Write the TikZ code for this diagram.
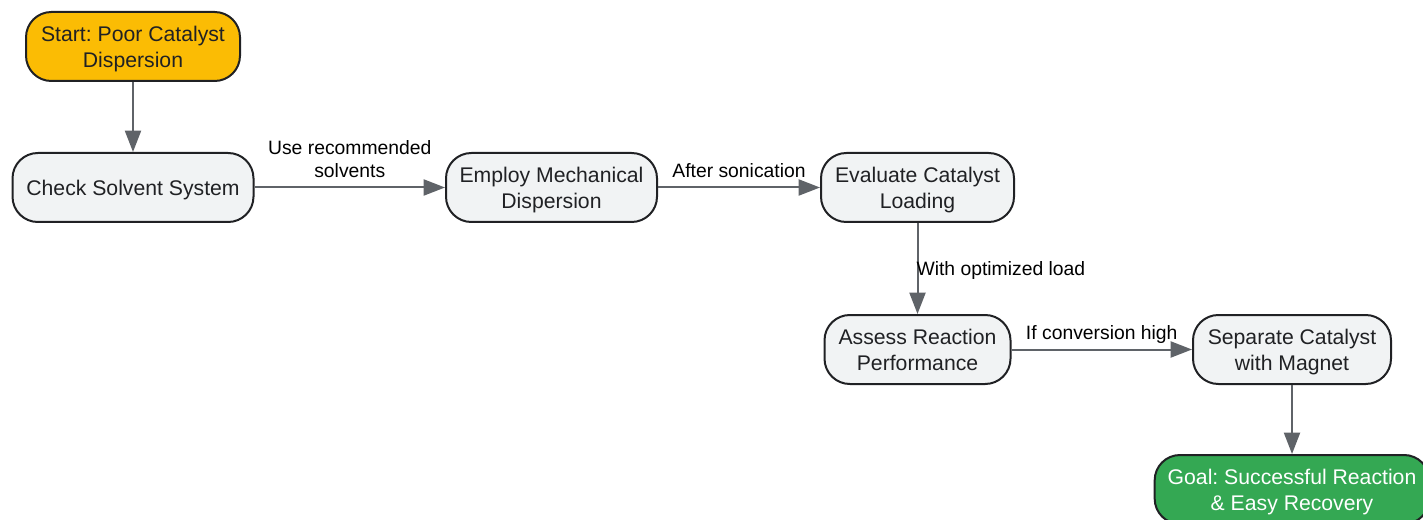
\documentclass[tikz,border=0pt]{standalone}
\usepackage{fontspec}
\setmainfont{Liberation Sans}
\usetikzlibrary{positioning, arrows.meta}
\definecolor{boxfill}{HTML}{F1F3F4}
\definecolor{boxline}{HTML}{202124}
\definecolor{linkgray}{HTML}{5F6368}
\definecolor{startfill}{HTML}{FBBC04}
\definecolor{goalfill}{HTML}{34A853}

\begin{document}
\frenchspacing
\begin{tikzpicture}[
    x=0.75pt,
    y=-0.75pt,
    stepbox/.style={rectangle, rounded corners=19pt, draw=boxline, line width=1.5pt, fill=boxfill, text=boxline, minimum height=51.75pt, inner sep=0pt, align=center, font=\fontsize{15.9}{19.6}\selectfont, execute at begin node=\rule{0pt}{17.2pt}, execute at end node=\strut},
    twoline/.style={execute at begin node=\rule{0pt}{37.8pt}},
    link/.style={-{Triangle[length=16pt, width=12pt]}, line width=1.5pt, linkgray},
    linktext/.style={font=\fontsize{14.5}{17.3}\selectfont, text=black, align=center, inner sep=0pt, execute at begin node=\strut, execute at end node=\strut}
]
\useasboundingbox (0,0) rectangle (1423,520);

% Boxes, top to bottom
\node[stepbox, twoline, fill=startfill, minimum width=160.5pt] (start) at (133,46.5) {Start: Poor Catalyst\\Dispersion};
\node[stepbox, minimum width=180.75pt] (solvent) at (133,187.5) {Check Solvent System};
\node[stepbox, twoline, minimum width=158.25pt] (mech) at (551.5,187.5) {Employ Mechanical\\Dispersion};
\node[stepbox, twoline, minimum width=144.75pt] (loading) at (917.5,187.5) {Evaluate Catalyst\\Loading};
\node[stepbox, twoline, minimum width=139.5pt] (perf) at (917.5,349.5) {Assess Reaction\\Performance};
\node[stepbox, twoline, minimum width=148.5pt] (magnet) at (1292,349.5) {Separate Catalyst\\with Magnet};
\node[stepbox, twoline, fill=goalfill, text=white, minimum width=206pt] (goal) at (1292,489.5) {Goal: Successful Reaction\\\&~Easy Recovery};

% Links
\draw[link] (start) -- (solvent);
\draw[link] (solvent) -- (mech) node[midway, above=1.4pt, linktext] (lsolvent) {Use recommended\\solvents};
\draw[link] (mech) -- (loading) node[midway, above=1.4pt, linktext] (lmech) {After sonication};
\draw[link] (loading) -- (perf) node[midway, right=-1.5pt, yshift=-1.5pt, linktext] (lload) {With optimized load};
\draw[link] (perf) -- (magnet) node[midway, above=1.4pt, linktext] (lperf) {If conversion high};
\draw[link] (magnet) -- (goal);

\end{tikzpicture}
\end{document}
